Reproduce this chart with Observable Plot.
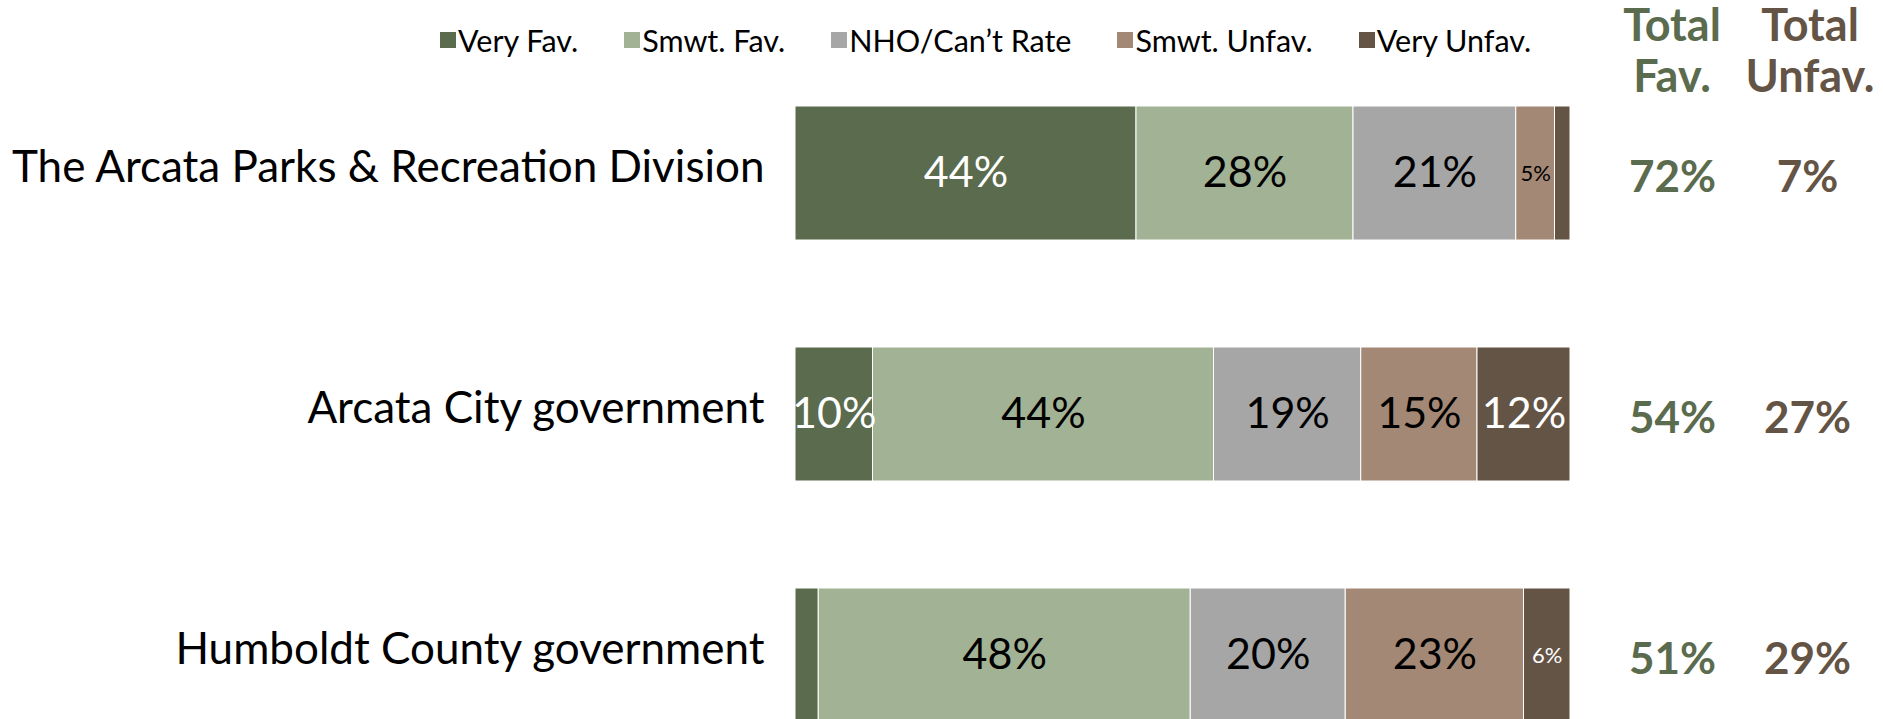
<!DOCTYPE html>
<html>
<head>
<meta charset="utf-8">
<script src="https://cdn.jsdelivr.net/npm/d3@7"></script>
<script src="https://cdn.jsdelivr.net/npm/@observablehq/plot@0.6"></script>
<style>
  html, body { margin: 0; padding: 0; background: #fff; overflow: hidden; }
  #header { position: relative; width: 1883px; height: 96px; font-family: Lato, sans-serif; }
  #legend { position: absolute; left: 440px; top: 24px; height: 32px; display: flex; align-items: center; gap: 46px; font-size: 30.5px; color: #000; }
  .item { display: flex; align-items: center; gap: 2px; white-space: nowrap; }
  .sw { width: 16px; height: 16px; display: inline-block; }
  .tot { position: absolute; top: -1px; width: 220px; text-align: center; font-weight: bold; font-size: 45px; line-height: 51px; }
  svg { display: block; }
</style>
</head>
<body>
<div id="header"></div>
<div id="chart"></div>
<script>
const groups = ["The Arcata Parks & Recreation Division", "Arcata City government", "Humboldt County government"];
const categories = ["Very Fav.", "Smwt. Fav.", "NHO/Can’t Rate", "Smwt. Unfav.", "Very Unfav."];
const veryFav   = [44, 10, 3];
const smwtFav   = [28, 44, 48];
const nho       = [21, 19, 20];
const smwtUnfav = [5, 15, 23];
const veryUnfav = [2, 12, 6];
const totalFav   = [72, 54, 51];
const totalUnfav = [7, 27, 29];
const colors = ["#5b6b4e", "#a2b295", "#a6a6a6", "#a38875", "#645445"];
const labelColors = ["white", "black", "black", "black", "white"];
const favColor = "#5b6b4e", unfavColor = "#645445";

const series = [veryFav, smwtFav, nho, smwtUnfav, veryUnfav];
const data = [];
groups.forEach((g, i) => categories.forEach((c, j) => data.push({group: g, cat: c, value: series[j][i], ci: j})));
const totals = groups.map((g, i) => ({group: g, fav: totalFav[i], unfav: totalUnfav[i]}));

// header: legend + total column titles
const header = document.getElementById("header");
const legend = document.createElement("div");
legend.id = "legend";
categories.forEach((c, j) => {
  const it = document.createElement("div"); it.className = "item";
  const sw = document.createElement("span"); sw.className = "sw"; sw.style.background = colors[j];
  const tx = document.createElement("span"); tx.textContent = c;
  it.append(sw, tx); legend.append(it);
});
header.append(legend);
[["Total<br>Fav.", favColor, 1672], ["Total<br>Unfav.", unfavColor, 1810]].forEach(([t, col, cx]) => {
  const d = document.createElement("div"); d.className = "tot";
  d.innerHTML = t; d.style.color = col; d.style.left = (cx - 110) + "px";
  header.append(d);
});

const stackOpts = {x: "value", y: "group", z: "cat", order: categories};
const chart = Plot.plot({
  width: 1883,
  height: 626,
  marginTop: 10,
  marginBottom: 0,
  marginLeft: 795,
  marginRight: 313,
  style: {fontFamily: "Lato, sans-serif", color: "black", background: "white", overflow: "visible"},
  x: {domain: [0, 100], axis: null},
  y: {domain: groups, paddingInner: 0.444, paddingOuter: 0, align: 0, label: null},
  color: {domain: categories, range: colors},
  marks: [
    Plot.barX(data, Plot.stackX({...stackOpts, fill: "cat", stroke: "white", strokeWidth: 1})),
    Plot.text(data, Plot.stackX({...stackOpts, text: d => d.value > 6 ? d.value + "%" : null, fill: d => labelColors[d.ci], fontSize: 43})),
    Plot.text(data, Plot.stackX({...stackOpts, text: d => (d.value >= 5 && d.value <= 6) ? d.value + "%" : null, fill: d => labelColors[d.ci], fontSize: 22})),
    Plot.text(totals, {x: () => 100, y: "group", text: d => d.fav + "%", dx: 102, dy: 4, fill: favColor, fontWeight: "bold", fontSize: 44}),
    Plot.text(totals, {x: () => 100, y: "group", text: d => d.unfav + "%", dx: 237, dy: 4, fill: unfavColor, fontWeight: "bold", fontSize: 44}),
    Plot.axisY({tickSize: 0, tickPadding: 31, fontSize: 44, dy: -6, label: null})
  ]
});
document.getElementById("chart").append(chart);
</script>
</body>
</html>
